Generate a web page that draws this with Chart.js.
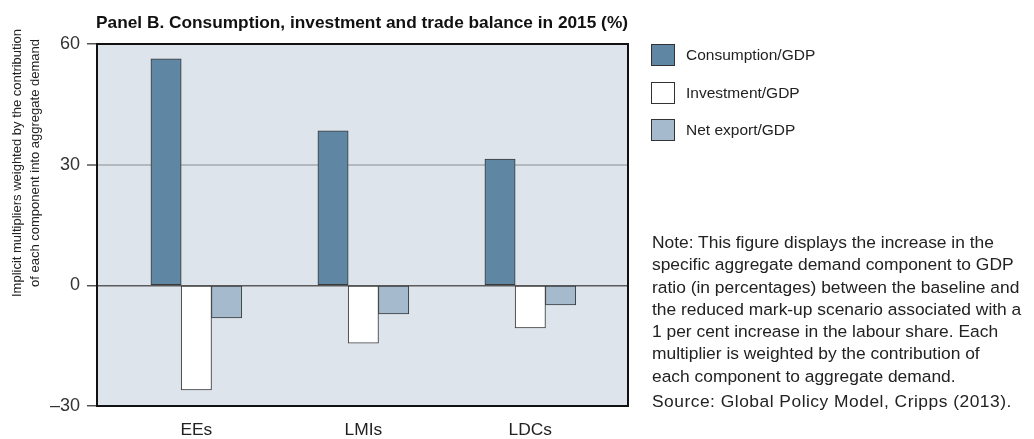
<!DOCTYPE html>
<html>
<head>
<meta charset="utf-8">
<script src="https://cdn.jsdelivr.net/npm/chart.js@4"></script>
<style>
  body { margin: 0; background: #fff; font-family: 'Liberation Sans', Arial, sans-serif; color: #222; }
  #wrap { position: relative; width: 1034px; height: 439px; }
  #legend { position: absolute; left: 651px; top: 44px; }
  .item { position: relative; height: 22px; margin-bottom: 15.5px; font-size: 15.5px; }
  .swatch { position: absolute; left: 0; top: 0; width: 22px; height: 20px; border: 1px solid #333; }
  .lbl { position: absolute; left: 35px; top: 2px; white-space: nowrap; line-height: 18px; }
  #note { position: absolute; left: 652px; top: 231px; font-size: 17.4px; line-height: 22.3px; white-space: nowrap; }
  #note .src { margin-top: 3px; letter-spacing: 0.5px; }
</style>
</head>
<body>
<div id="wrap">
  <canvas id="chart" width="1034" height="439"></canvas>
  <div id="legend"></div>
  <div id="note">
    Note: This figure displays the increase in the<br>
    specific aggregate demand component to GDP<br>
    ratio (in percentages) between the baseline and<br>
    the reduced mark-up scenario associated with a<br>
    1 per cent increase in the labour share. Each<br>
    multiplier is weighted by the contribution of<br>
    each component to aggregate demand.
    <div class="src">Source: Global Policy Model, Cripps (2013).</div>
  </div>
</div>
<script>
// values in per cent
const categories = ['EEs', 'LMIs', 'LDCs'];
const consumption = [56.3, 38.4, 31.4];
const investment = [-26.0, -14.4, -10.6];
const netExport = [-8.1, -7.1, -4.9];
const yTicks = [-30, 0, 30, 60];

const seriesNames = ['Consumption/GDP', 'Investment/GDP', 'Net export/GDP'];
const seriesColors = ['#5f86a2', '#ffffff', '#a5bacd'];

const toPoints = arr => arr.map((v, i) => ({ x: i, y: v }));

// plot background + frame, panel title, two-line y title
const decor = {
  id: 'decor',
  beforeDraw(chart) {
    const { ctx, chartArea: a } = chart;
    ctx.save();
    ctx.fillStyle = '#dde4ec';
    ctx.fillRect(a.left, a.top, a.right - a.left, a.bottom - a.top);
    ctx.restore();
  },
  afterDraw(chart) {
    const { ctx, chartArea: a } = chart;
    ctx.save();
    ctx.strokeStyle = '#111';
    ctx.lineWidth = 2;
    ctx.strokeRect(a.left, a.top, a.right - a.left, a.bottom - a.top);

    ctx.fillStyle = '#111';
    ctx.font = 'bold 17.3px "Liberation Sans", Arial, sans-serif';
    ctx.textAlign = 'left';
    ctx.textBaseline = 'alphabetic';
    ctx.fillText('Panel B. Consumption, investment and trade balance in 2015 (%)', 96, 28);

    ctx.fillStyle = '#222';
    ctx.font = '13px "Liberation Sans", Arial, sans-serif';
    ctx.textAlign = 'center';
    const lines = ['Implicit multipliers weighted by the contribution',
                   'of each component into aggregate demand'];
    [20.5, 38.5].forEach((x, i) => {
      ctx.save();
      ctx.translate(x, 163);
      ctx.rotate(-Math.PI / 2);
      ctx.fillText(lines[i], 0, 0);
      ctx.restore();
    });
    ctx.restore();
  }
};

const chart = new Chart(document.getElementById('chart'), {
  type: 'bar',
  data: {
    datasets: [consumption, investment, netExport].map((arr, i) => ({
      label: seriesNames[i],
      data: toPoints(arr),
      backgroundColor: seriesColors[i],
      borderColor: '#3a3a3a',
      borderWidth: 1,
      borderSkipped: false,
      barThickness: 30.3
    }))
  },
  options: {
    responsive: false,
    devicePixelRatio: 1,
    animation: false,
    layout: { padding: { left: 0, right: 406, top: 44, bottom: 0 } },
    plugins: { legend: { display: false }, tooltip: { enabled: false }, title: { display: false } },
    scales: {
      x: {
        type: 'linear',
        offset: false,
        min: -0.595,
        max: 2.585,
        afterBuildTicks: s => { s.ticks = categories.map((c, i) => ({ value: i })); },
        afterFit: s => { s.height = 33; },
        grid: { display: false, drawTicks: false, offset: false },
        border: { display: false },
        ticks: {
          padding: 14,
          color: '#222',
          autoSkip: false,
          maxRotation: 0,
          font: { family: '"Liberation Sans", Arial, sans-serif', size: 17.4 },
          callback: v => categories[v] ?? ''
        }
      },
      y: {
        min: -30,
        max: 60,
        afterBuildTicks: s => { s.ticks = yTicks.map(v => ({ value: v })); },
        afterFit: s => { s.width = 97; },
        border: { display: false },
        grid: {
          color: c => c.tick.value === 30 ? '#b4b9be' : (c.tick.value === 0 ? '#5a5a5a' : 'rgba(0,0,0,0)'),
          lineWidth: c => c.tick.value === 30 ? 2 : 1.5,
          tickColor: '#555',
          tickWidth: 1.5,
          tickLength: 10
        },
        ticks: {
          padding: 7,
          color: '#333',
          font: { family: '"Liberation Sans", Arial, sans-serif', size: 18 },
          callback: v => String(v).replace('-', '\u2013')
        }
      }
    }
  },
  plugins: [decor]
});

// legend built from the datasets
const legend = document.getElementById('legend');
chart.data.datasets.forEach(ds => {
  const item = document.createElement('div');
  item.className = 'item';
  item.innerHTML = '<div class="swatch" style="background:' + ds.backgroundColor + '"></div>' +
                   '<span class="lbl">' + ds.label + '</span>';
  legend.appendChild(item);
});
</script>
</body>
</html>
